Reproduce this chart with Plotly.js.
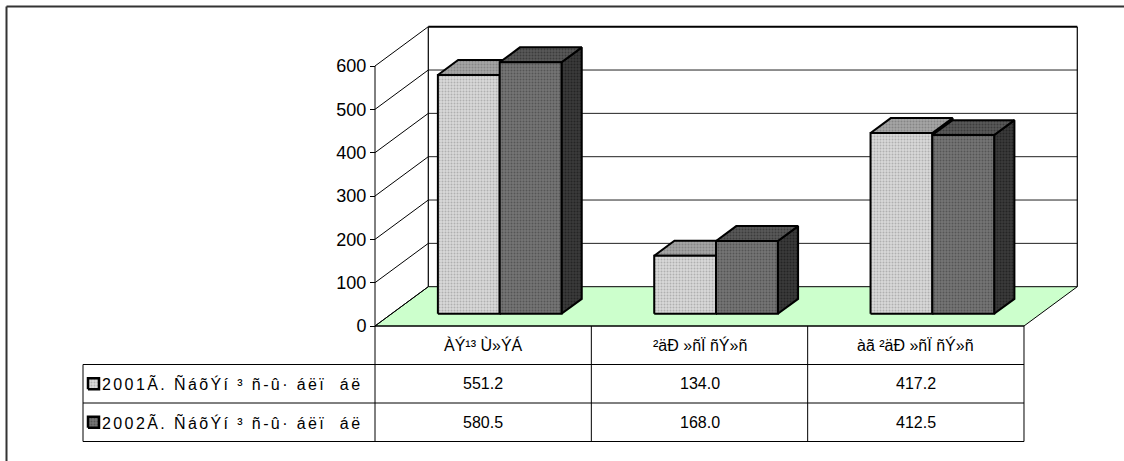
<!DOCTYPE html>
<html>
<head>
<meta charset="utf-8">
<script src="https://cdn.plot.ly/plotly-3.0.1.min.js"></script>
<style>html,body{margin:0;padding:0;background:#fff;}#chart{width:1124px;height:461px;}</style>
</head>
<body>
<div id="chart"></div>
<script>
// ---- data ----
const categories = ["ÀÝ¹³ Ù»ÝÁ", "²äÐ »ñÏ ñÝ»ñ", "àã ²äÐ »ñÏ ñÝ»ñ"];
const seriesNames = ["2001Ã. ÑáõÝí ³ ñ-û· áëï  áë", "2002Ã. ÑáõÝí ³ ñ-û· áëï  áë"];
const values2001 = [551.2, 134.0, 417.2];
const values2002 = [580.5, 168.0, 412.5];
const yTicks = [0, 100, 200, 300, 400, 500, 600];

// ---- layout constants (pixel geometry of the reference) ----
const W = 1124, H = 461;
const PX_X0 = 375, PX_PER_CAT = 216.33;
const PX_Y0 = 326, KY = 260 / 600;
const DX = 53.3 / PX_PER_CAT;   // oblique depth offset (x units)
const DY = 39.3 / KY;           // oblique depth offset (value units)
const YMAX = 600;
const NC = categories.length;
const BAR_W = 1 / 3.5, GAP_L = 0.75 * BAR_W;
const D0 = 0.31, D1 = 0.69;
const ROW_H = 38.5 / KY;
const TABLE_LEFT = (83 - PX_X0) / PX_PER_CAT;
const LABEL_LEFT_PX = 102;
const FONT = "Liberation Sans, Arial, sans-serif";

const xr = [-PX_X0 / PX_PER_CAT, (W - PX_X0) / PX_PER_CAT];
const yr = [-(H - PX_Y0) / KY, PX_Y0 / KY];

const traces = [];
function poly(xs, ys, fill, line, lw, pattern) {
  const t = {type: 'scatter', mode: 'lines', x: xs.concat([xs[0]]), y: ys.concat([ys[0]]),
    fill: 'toself', fillcolor: fill, line: {color: line, width: lw}, hoverinfo: 'skip', showlegend: false};
  if (pattern) t.fillpattern = pattern;
  traces.push(t);
}
function lines(segs, color, width) {
  const xs = [], ys = [];
  segs.forEach(s => { xs.push(s[0], s[2], null); ys.push(s[1], s[3], null); });
  traces.push({type: 'scatter', mode: 'lines', x: xs, y: ys, line: {color: color, width: width},
    hoverinfo: 'skip', showlegend: false, connectgaps: false});
}

// floor
poly([0, NC, NC + DX, DX], [0, 0, DY, DY], '#CCFFCC', '#000', 1);
// side wall diagonals
lines(yTicks.map(v => [0, v, DX, v + DY]), '#000', 1);
// back wall gridlines
lines(yTicks.filter(v => v > 0 && v < YMAX).map(v => [DX, v + DY, NC + DX, v + DY]), '#222', 1);
// back wall edges
lines([[DX, DY, DX, YMAX + DY], [NC + DX, DY, NC + DX, YMAX + DY]], '#000', 1.2);
lines([[DX, YMAX + DY, NC + DX, YMAX + DY]], '#000', 2);
// front value axis line
lines([[0, 0, 0, YMAX]], '#000', 1);

// bar styles
const styles = [
  {front: {bg: '#DADADA', fg: '#B0B0B0'}, top: {bg: '#A6A6A6', fg: '#858585'}, side: {bg: '#8C8C8C', fg: '#707070'}},
  {front: {bg: '#767676', fg: '#555555'}, top: {bg: '#595959', fg: '#3C3C3C'}, side: {bg: '#3A3A3A', fg: '#242424'}}
];
function pat(s) { return {shape: '.', size: 3, solidity: 0.35, bgcolor: s.bg, fgcolor: s.fg}; }
const allValues = [values2001, values2002];
for (let i = 0; i < NC; i++) {
  for (let s = 0; s < 2; s++) {
    const v = allValues[s][i];
    const x0 = i + GAP_L + s * BAR_W, x1 = x0 + BAR_W;
    const a = D0 * DX, b = D1 * DX, ya = D0 * DY, yb = D1 * DY;
    const st = styles[s];
    poly([x1 + a, x1 + b, x1 + b, x1 + a], [ya, yb, v + yb, v + ya], st.side.bg, '#000', 2, pat(st.side));
    poly([x0 + a, x1 + a, x1 + b, x0 + b], [v + ya, v + ya, v + yb, v + yb], st.top.bg, '#000', 2, pat(st.top));
    poly([x0 + a, x1 + a, x1 + a, x0 + a], [ya, ya, v + ya, v + ya], st.front.bg, '#000', 2, pat(st.front));
  }
}

// legend keys in table
const KEY_W = 11 / PX_PER_CAT, KEY_H = 11 / KY;
const keyX0 = (88 - PX_X0) / PX_PER_CAT;
for (let s = 0; s < 2; s++) {
  const cy = -(s + 1.5) * ROW_H;
  poly([keyX0, keyX0 + KEY_W, keyX0 + KEY_W, keyX0], [cy - KEY_H / 2, cy - KEY_H / 2, cy + KEY_H / 2, cy + KEY_H / 2],
       styles[s].front.bg, '#000', 2.5, pat(styles[s].front));
}

// table grid
const shapes = [];
function hline(x0, x1, y, w) { shapes.push({type: 'line', xref: 'x', yref: 'y', x0: x0, x1: x1, y0: y, y1: y, line: {color: '#000', width: w || 1}}); }
function vline(x, y0, y1, w) { shapes.push({type: 'line', xref: 'x', yref: 'y', x0: x, x1: x, y0: y0, y1: y1, line: {color: '#000', width: w || 1}}); }
hline(0, NC, 0);
for (let r = 1; r <= 3; r++) hline(TABLE_LEFT, NC, -r * ROW_H);
vline(TABLE_LEFT, -ROW_H, -3 * ROW_H);
for (let c = 0; c <= NC; c++) vline(c, 0, -3 * ROW_H);

// outer frame (paper)
shapes.push({type: 'line', xref: 'paper', yref: 'paper', x0: 6.5 / W, x1: 1, y0: 1 - 6.5 / H, y1: 1 - 6.5 / H, line: {color: '#333', width: 2}});
shapes.push({type: 'line', xref: 'paper', yref: 'paper', x0: 6.5 / W, x1: 6.5 / W, y0: 0, y1: 1 - 6.5 / H, line: {color: '#333', width: 2}});

// table text
const annotations = [];
const tf = {family: FONT, size: 16, color: '#000'};
categories.forEach((c, i) => annotations.push({x: i + 0.5, y: -ROW_H / 2, xref: 'x', yref: 'y', text: c, showarrow: false, font: tf}));
const labelIdx = [];
[values2001, values2002].forEach((vals, s) => {
  vals.forEach((v, i) => annotations.push({x: i + 0.5, y: -(s + 1.5) * ROW_H, xref: 'x', yref: 'y', text: v.toFixed(1), showarrow: false, font: tf}));
  labelIdx.push(annotations.length);
  annotations.push({x: (LABEL_LEFT_PX - PX_X0) / PX_PER_CAT, y: -(s + 1.5) * ROW_H, xref: 'x', yref: 'y', text: seriesNames[s],
    showarrow: false, xanchor: 'left', font: tf});
});

const layout = {
  width: W, height: H,
  margin: {l: 0, r: 0, t: 0, b: 0, pad: 0},
  paper_bgcolor: '#fff', plot_bgcolor: 'rgba(0,0,0,0)',
  showlegend: false,
  xaxis: {range: xr, visible: false, fixedrange: true},
  yaxis: {range: yr, anchor: 'free', position: PX_X0 / W, showgrid: false, zeroline: false, showline: false,
    tickmode: 'array', tickvals: yTicks, ticks: 'outside', ticklen: 5, tickcolor: '#000', tickwidth: 1,
    tickfont: {family: FONT, size: 18, color: '#000'}, fixedrange: true, automargin: false},
  shapes: shapes,
  annotations: annotations
};
Plotly.newPlot('chart', traces, layout, {staticPlot: true, displayModeBar: false}).then(gd => {
  // the series labels in the reference are laid out with wider glyph advances
  const host = gd.getBoundingClientRect();
  labelIdx.forEach(k => {
    const t = gd.querySelector('.annotation[data-index="' + k + '"] text');
    if (!t) return;
    t.style.letterSpacing = '2.4px';
    const r = t.getBoundingClientRect();
    const shift = (host.left + LABEL_LEFT_PX) - r.left;
    t.setAttribute('x', parseFloat(t.getAttribute('x') || 0) + shift);
  });
});
</script>
</body>
</html>
